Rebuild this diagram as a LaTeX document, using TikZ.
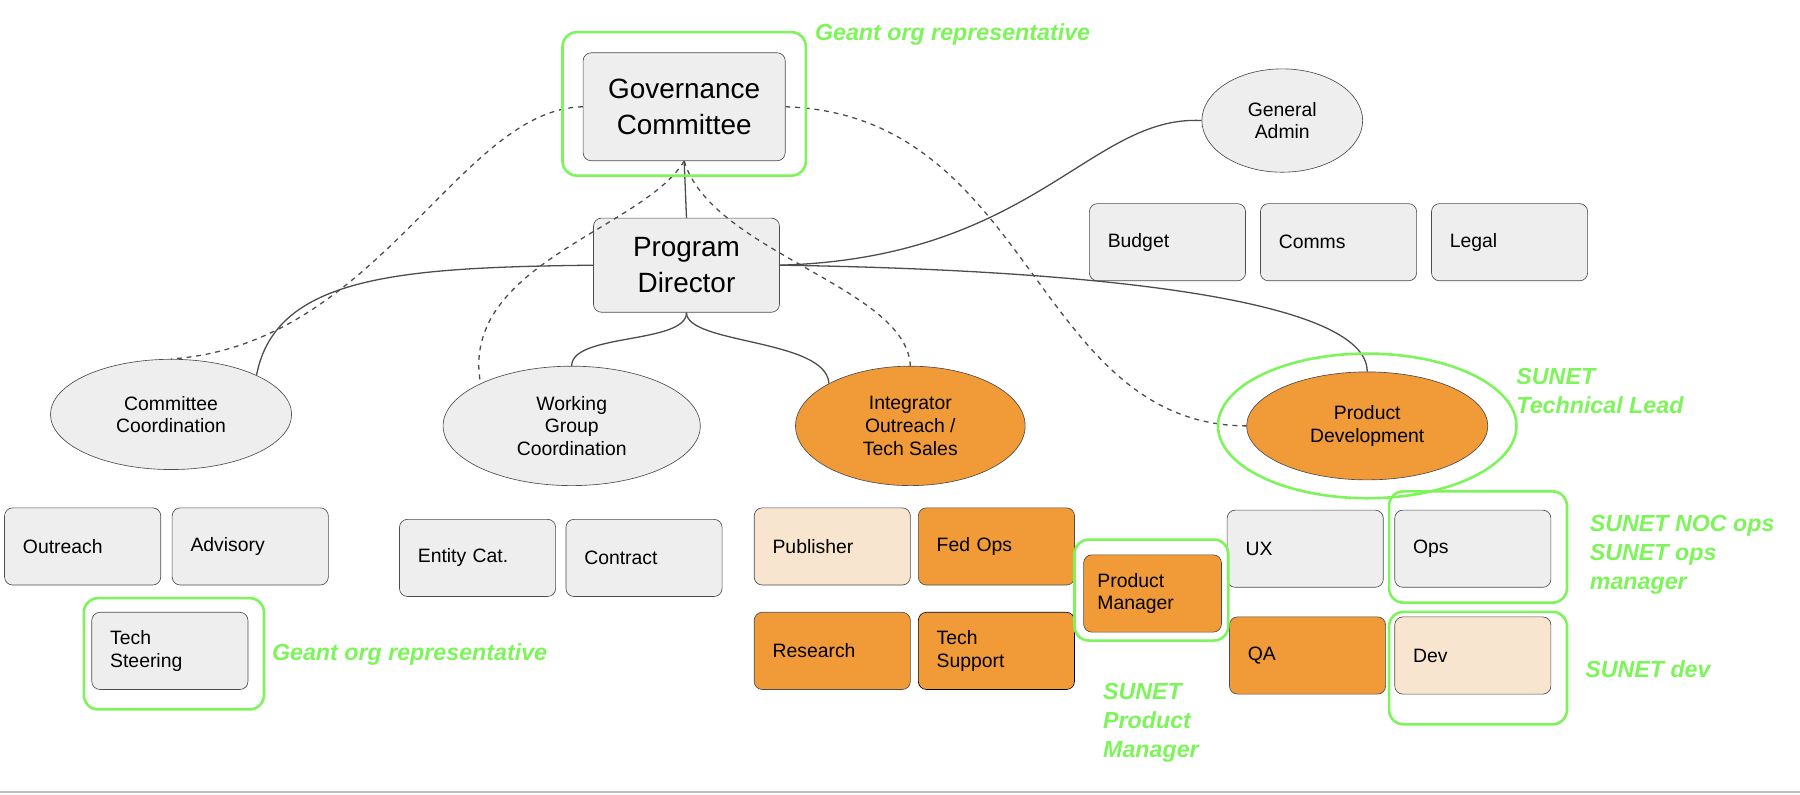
\documentclass[tikz,border=0pt]{standalone}
\usepackage{fontspec}
\setmainfont{Liberation Sans}
\usetikzlibrary{positioning,shapes.geometric,calc}
\definecolor{boxgray}{HTML}{EEEEEE}
\definecolor{orng}{HTML}{F19B38}
\definecolor{lightorng}{HTML}{F8E5D0}
\definecolor{hand}{HTML}{7DF55A}
\tikzset{
  unit/.style = {draw=black!70, rounded corners=5pt, fill=boxgray, minimum width=3.4cm, minimum height=1.68cm, align=left, font=\large, text width=2.6cm},
  role/.style = {ellipse, draw=black!70, fill=boxgray, align=center, font=\large},
  hot/.style = {fill=orng},
  warm/.style = {fill=lightorng},
  frame/.style = {draw=hand, line width=1.6pt, rounded corners=9pt},
  note/.style = {text=hand, font=\Large\bfseries\itshape, anchor=west, align=left},
  link/.style = {draw=black!70, thick},
  dashlink/.style = {draw=black!70, thick, dashed},
}
\begin{document}
\begin{tikzpicture}[x=0.025cm, y=-0.025cm]
\useasboundingbox (0,0) rectangle (1568,692);
\draw[black!25, thick] (0,690) -- (1568,690);

% top level
\node[unit, minimum width=4.4cm, minimum height=2.35cm, font=\LARGE, align=center, text width=4cm] (gov) at (596,93) {Governance\\Committee};
\node[unit, minimum width=4.05cm, minimum height=2.05cm, font=\LARGE, align=center, text width=3.6cm] (pd) at (598,231) {Program\\Director};
\node[role, minimum width=3.5cm, minimum height=2.25cm] (ga) at (1117,105) {General\\Admin};

% admin units
\node[unit] (budget) at (1017,211) {Budget};
\node[unit] (comms) at (1166,211) {Comms};
\node[unit] (legal) at (1315,211) {Legal};

% second level
\node[role, minimum width=5.25cm, minimum height=2.4cm] (cc) at (149,361) {Committee\\Coordination};
\node[role, minimum width=5.6cm, minimum height=2.6cm] (wg) at (498,371) {Working\\Group\\Coordination};
\node[role, hot, minimum width=5cm, minimum height=2.6cm] (io) at (793,371) {Integrator\\Outreach /\\Tech Sales};
\node[role, hot, minimum width=5.25cm, minimum height=2.35cm] (dev) at (1191,371) {Product\\Development};

% units
\node[unit] (outreach) at (72,476) {Outreach};
\node[unit] (advisory) at (218,476) {Advisory};
\node[unit] (steer) at (148,567) {Tech\\Steering};
\node[unit] (entity) at (416,486) {Entity Cat.};
\node[unit] (contract) at (561,486) {Contract};
\node[unit, warm] (pub) at (725,476) {Publisher};
\node[unit, hot] (fedops) at (868,476) {Fed Ops};
\node[unit, hot] (research) at (725,567) {Research};
\node[unit, hot, draw=black] (support) at (868,567) {Tech\\Support};
\node[unit, hot, minimum width=3cm, text width=2.4cm] (pm) at (1004,517) {Product\\Manager};
\node[unit] (ux) at (1137,478) {UX};
\node[unit] (ops) at (1283,478) {Ops};
\node[unit, hot] (qa) at (1139,571) {QA};
\node[unit, warm] (devu) at (1283,571) {Dev};

% solid reporting lines
\draw[link] (gov.south) -- (pd.north);
\draw[link] (pd.east) .. controls (900,225) and (950,100) .. (ga.west);
\draw[link] (pd.west) .. controls (350,233) and (240,240) .. (cc.north east);
\draw[link] (pd.south) .. controls (598,300) and (498,290) .. (wg.north);
\draw[link] (pd.south) .. controls (598,300) and (720,295) .. (io.north west);
\draw[link] (pd.east) .. controls (950,235) and (1191,260) .. (dev.north);

% dashed lines
\draw[dashlink] (gov.west) .. controls (400,95) and (330,300) .. (cc.north);
\draw[dashlink] (gov.south) .. controls (560,200) and (400,230) .. (wg.north west);
\draw[dashlink] (gov.south) .. controls (620,220) and (790,250) .. (io.north);
\draw[dashlink] (gov.east) .. controls (900,100) and (900,370) .. (dev.west);

% green annotations
\draw[frame] (490,28) rectangle (702,153);
\draw[hand, line width=1.6pt] (dev) ellipse (130 and 63);
\draw[frame] (73,521) rectangle (230,618);
\draw[frame] (936,470) rectangle (1070,558);
\draw[frame] (1210,428) rectangle (1365,525);
\draw[frame] (1210,533) rectangle (1365,631);
\node[note] (n1) at (705,30) {Geant org representative};
\node[note] (n2) at (232,570) {Geant org representative};
\node[note] (n3) at (1316,341) {SUNET\\Technical Lead};
\node[note] (n4) at (1380,483) {SUNET NOC ops\\SUNET ops\\manager};
\node[note] (n5) at (1376,583) {SUNET dev};
\node[note] (n6) at (956,630) {SUNET\\Product\\Manager};
\end{tikzpicture}
\end{document}
